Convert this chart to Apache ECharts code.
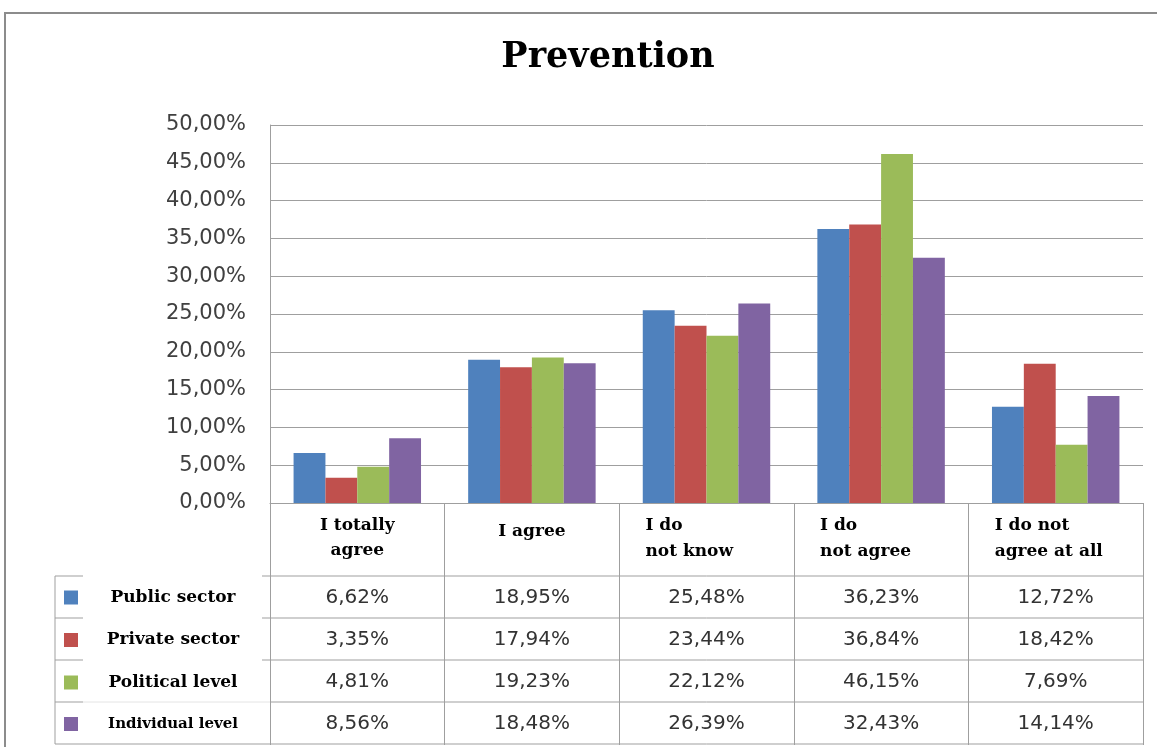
<!DOCTYPE html>
<html>
<head>
<meta charset="utf-8">
<script src="https://cdn.jsdelivr.net/npm/echarts@6/dist/echarts.min.js"></script>
<style>
  html, body { margin: 0; padding: 0; background: #fff; }
  #chart { width: 1157px; height: 747px; }
</style>
</head>
<body>
<div id="chart"></div>
<script>
// data
const categories = ['I totally\nagree', 'I agree', 'I do\nnot know', 'I do\nnot agree', 'I do not\nagree at all'];
const seriesNames = ['Public sector', 'Private sector', 'Political level', 'Individual level'];
const publicSector = [6.62, 18.95, 25.48, 36.23, 12.72];
const privateSector = [3.35, 17.94, 23.44, 36.84, 18.42];
const politicalLevel = [4.81, 19.23, 22.12, 46.15, 7.69];
const individualLevel = [8.56, 18.48, 26.39, 32.43, 14.14];
const yMin = 0, yMax = 50, yStep = 5;

const colors = ['#4F81BD', '#C0504D', '#9BBB59', '#8064A2'];
const rows = [publicSector, privateSector, politicalLevel, individualLevel];
const fmt = v => v.toFixed(2).replace('.', ',') + '%';

const serif = 'DejaVu Serif';
const sans = 'DejaVu Sans';
const lineColor = '#9f9f9f';

// table layout
const gridLeft = 270, gridRight = 1143, axisY = 503;
const rowTop = 576, rowH = 42;

const chart = echarts.init(document.getElementById('chart'));

const option = {
  backgroundColor: '#fff',
  animation: false,
  color: colors,
  title: {
    text: 'Prevention',
    left: 608,
    top: 40,
    padding: 0,
    textAlign: 'center',
    textStyle: { fontFamily: serif, fontWeight: 'bold', fontSize: 35, color: '#000' }
  },
  legend: {
    orient: 'vertical',
    left: 64,
    top: 589,
    padding: 0,
    icon: 'rect',
    itemWidth: 14,
    itemHeight: 14,
    itemGap: 25.5,
    selectedMode: false,
    data: seriesNames,
    formatter: name => name === 'Individual level' ? '{s|' + name + '}' : '{b|' + name + '}',
    textStyle: {
      rich: {
        b: { fontFamily: serif, fontWeight: 'bold', fontSize: 17, color: '#000', width: 180, align: 'center', lineHeight: 20 },
        s: { fontFamily: serif, fontWeight: 'bold', fontSize: 15, color: '#000', width: 180, align: 'center', lineHeight: 20 }
      }
    }
  },
  grid: { left: gridLeft, right: 1157 - gridRight, top: 125, bottom: 747 - axisY },
  xAxis: {
    type: 'category',
    data: categories,
    axisLine: { lineStyle: { color: lineColor, width: 1 } },
    axisTick: { show: true, length: rowTop + 4 * rowH + 1 - axisY, interval: 0, lineStyle: { color: lineColor } },
    axisLabel: {
      interval: 0,
      margin: 10,
      formatter: (val, idx) => {
        const lines = val.split('\n');
        if (lines.length === 1) return '{one|' + val + '}';
        const tag = idx < 2 ? 'c' : 'l';
        return lines.map(t => '{' + tag + '|' + t + '}').join('\n');
      },
      rich: {
        c: { fontFamily: serif, fontWeight: 'bold', fontSize: 17, color: '#000', lineHeight: 25, width: 150, align: 'center' },
        l: { fontFamily: serif, fontWeight: 'bold', fontSize: 17, color: '#000', lineHeight: 26, width: 122, align: 'left' },
        one: { fontFamily: serif, fontWeight: 'bold', fontSize: 17, color: '#000', lineHeight: 38, width: 150, align: 'center' }
      }
    }
  },
  yAxis: {
    type: 'value',
    min: yMin,
    max: yMax,
    interval: yStep,
    axisLine: { show: true, lineStyle: { color: lineColor } },
    axisTick: { show: false },
    splitLine: { lineStyle: { color: lineColor, width: 1 } },
    axisLabel: {
      margin: 24,
      fontFamily: sans,
      fontSize: 21,
      color: '#404040',
      formatter: v => fmt(v)
    }
  },
  series: seriesNames.map((name, i) => ({
    name: name,
    type: 'bar',
    data: rows[i],
    barGap: '0%',
    barCategoryGap: '27%',
    itemStyle: { color: colors[i] }
  }))
};

chart.setOption(option);

// data table under the plot
const g = [];
const hl = (x1, x2, y, c) => g.push({ type: 'line', shape: { x1: x1, y1: y, x2: x2, y2: y }, style: { stroke: c || lineColor, lineWidth: 1 } });

for (let r = 0; r <= 4; r++) {
  const y = rowTop + r * rowH;
  hl(gridLeft, gridRight, y);
  if (r === 0 || r === 1 || r === 2) {
    hl(55, 83, y);
    hl(262, gridLeft, y);
  } else if (r === 3) {
    hl(55, 83, y);
    hl(83, gridLeft, y, '#e4e4e4');
  } else {
    hl(55, gridLeft, y);
  }
}
g.push({ type: 'line', shape: { x1: 55, y1: rowTop, x2: 55, y2: rowTop + 4 * rowH }, style: { stroke: lineColor, lineWidth: 1 } });

rows.forEach((vals, r) => {
  vals.forEach((v, c) => {
    const x = chart.convertToPixel({ xAxisIndex: 0 }, c);
    g.push({
      type: 'text',
      x: x,
      y: rowTop + r * rowH + rowH / 2 + 1,
      style: { text: fmt(v), fontFamily: sans, fontSize: 20, fill: '#333', align: 'center', verticalAlign: 'middle' }
    });
  });
});

// outer frame
g.push({ type: 'rect', shape: { x: 5, y: 13, width: 1300, height: 900 }, style: { fill: 'none', stroke: '#8c8c8c', lineWidth: 2 }, silent: true });

chart.setOption({ graphic: g });
</script>
</body>
</html>
